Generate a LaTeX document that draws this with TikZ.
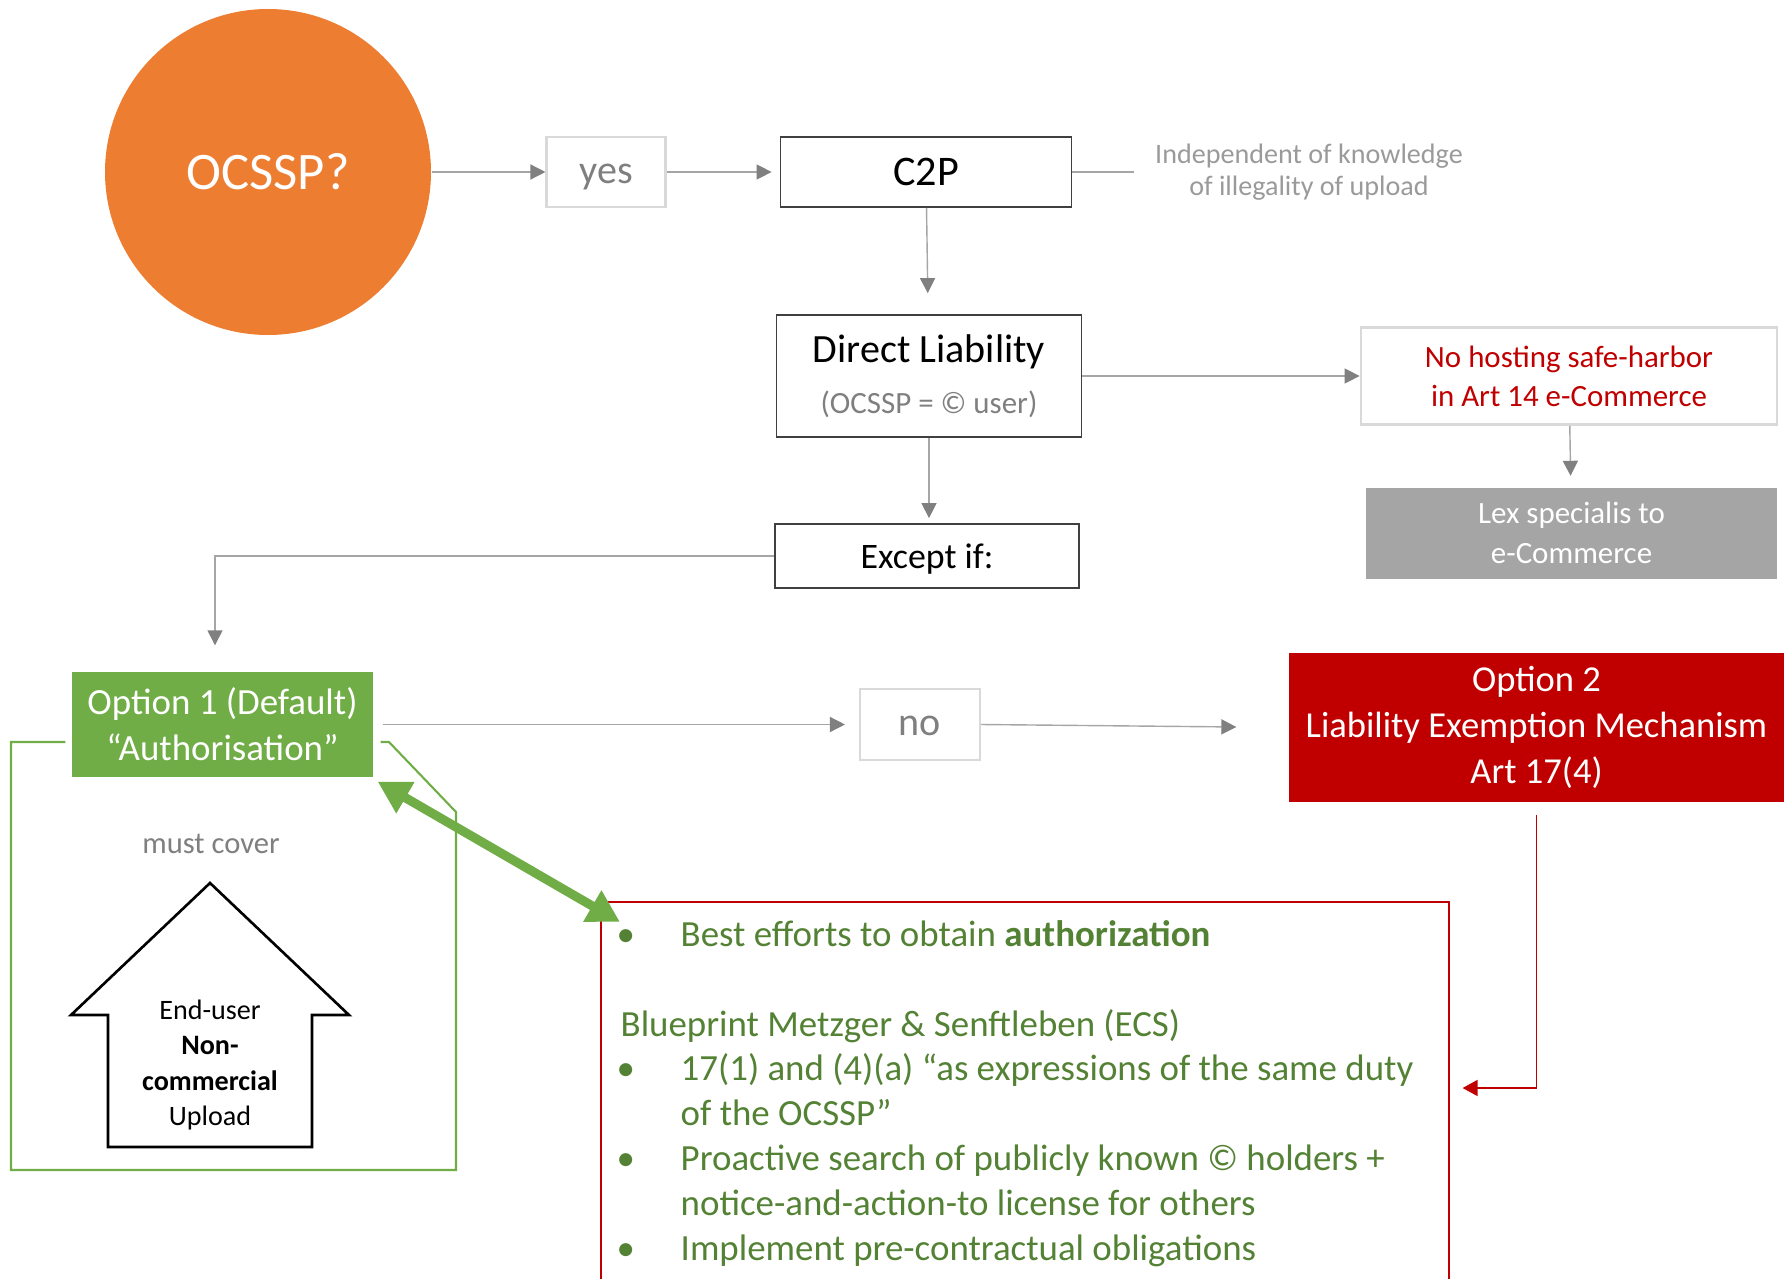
\documentclass[tikz,border=0pt]{standalone}
\usepackage{fontspec}
\setmainfont{Carlito}
\usepackage{tikz}
\usetikzlibrary{arrows.meta,positioning,calc}
\tikzstyle{bubble} = [circle, fill=orangeC, minimum size=3.26cm, inner sep=0pt, text=white, font=\fsize{15}{18}]
\tikzstyle{answer} = [rectangle, draw=boxline, line width=0.6pt, minimum width=1.19cm, minimum height=0.70cm, inner sep=0pt, text height=8.6pt, text depth=2.3pt, text=txtgray, font=\fsize{11.4}{14}]
\tikzstyle{stage} = [rectangle, draw=darkline, line width=0.5pt, minimum height=0.70cm, inner sep=0pt, font=\fsize{12}{14}]
\tikzstyle{note} = [rectangle, draw=boxline, line width=0.8pt, minimum width=4.16cm, minimum height=0.97cm, inner sep=0pt, text=redC, align=center, font=\fsize{8.8}{11.1}]
\tikzstyle{greybox} = [rectangle, fill=lexgray, minimum width=4.11cm, minimum height=0.91cm, inner sep=0pt, text=white, align=center, font=\fsize{8.8}{11.3}]
\tikzstyle{option1} = [rectangle, fill=greenC, minimum width=3.01cm, minimum height=1.05cm, inner sep=0pt, text=white, align=center, font=\fsize{10.5}{13.1}]
\tikzstyle{option2} = [rectangle, fill=redC, minimum width=4.95cm, minimum height=1.49cm, inner sep=0pt, text=white, align=center, font=\fsize{10.4}{13.1}]
\tikzstyle{arrow} = [line width=0.4pt, draw=linegray, -{Triangle[length=0.15cm,width=0.15cm,color=tipgray]}]
\tikzstyle{redarrow} = [line width=0.45pt, draw=redC, -{Triangle[length=0.15cm,width=0.16cm]}]
\tikzstyle{bigarrow} = [line width=2.6pt, draw=greenC, {Triangle[length=0.32cm,width=0.34cm]}-{Triangle[length=0.32cm,width=0.34cm]}]
\definecolor{orangeC}{RGB}{237,125,49}
\definecolor{greenC}{RGB}{112,173,71}
\definecolor{darkgreen}{RGB}{84,130,53}
\definecolor{redC}{RGB}{192,0,0}
\definecolor{lexgray}{RGB}{165,165,165}
\definecolor{linegray}{RGB}{166,166,166}
\definecolor{tipgray}{RGB}{128,128,128}
\definecolor{boxline}{RGB}{217,217,217}
\definecolor{txtgray}{RGB}{127,127,127}
\definecolor{notegray}{RGB}{154,154,154}
\definecolor{darkline}{RGB}{64,64,64}
\newcommand{\fsize}[2]{\fontsize{#1pt}{#2pt}\selectfont}
\newcommand{\itm}[1]{\par\hangindent=0.6cm\hangafter=1\noindent\makebox[0.6cm][l]{\hspace{-0.04cm}\textbullet}#1}

\begin{document}
\begin{tikzpicture}
\useasboundingbox (0,0) rectangle (17.87,-12.79);
\node (ocssp) [bubble] at (2.68,-1.72) {OCSSP?};
\node (yes) [answer, right of=ocssp, node distance=3.38cm] {yes};
\node (c2p) [stage, minimum width=2.91cm, right of=yes, node distance=3.2cm] {C2P};
\node (indep) [right of=c2p, node distance=3.83cm, text=notegray, align=center, font=\fsize{8}{9.1}] {Independent of knowledge\\of illegality of upload};
\node (direct) [stage, minimum width=3.05cm, minimum height=1.22cm, below of=c2p, node distance=2.04cm, xshift=0.03cm, align=center, font=\fsize{11.4}{14.6}] {Direct Liability\\{\fsize{8.8}{14.6}\color{txtgray}(OCSSP = © user)}};
\node (except) [stage, minimum width=3.04cm, minimum height=0.64cm, below of=direct, node distance=1.8cm, xshift=-0.02cm, text height=9.6pt, text depth=2.5pt, font=\fsize{10.2}{12}] {Except if:};
\node (nohost) [note, right of=direct, node distance=6.4cm] {No hosting safe-harbor\\in Art 14 e-Commerce};
\node (lex) [greybox, below of=nohost, node distance=1.57cm, xshift=0.025cm] {Lex specialis to\\e-Commerce};
\node (opt1) [option1] at (2.225,-7.245) {Option 1 (Default)\\“Authorisation”};
\node (no) [answer, minimum width=1.20cm, minimum height=0.71cm, right of=opt1, node distance=6.975cm] {no};
\node (opt2) [option2, right of=no, node distance=6.165cm, yshift=-0.03cm] {Option 2\\Liability Exemption Mechanism\\Art 17(4)};
\node (cover) [below of=opt1, node distance=1.195cm, xshift=-0.115cm, text=txtgray, font=\fsize{8.7}{10}] {must cover};
\node (frame) [anchor=north west, draw=redC, line width=0.45pt, minimum width=8.48cm, minimum height=4.4cm, inner sep=0pt] at (6.00,-9.01) {};
\node (bp) [anchor=north west, text width=8.1cm, inner sep=0pt, text=darkgreen, font=\fsize{10.5}{12.75}] at (6.20,-9.01) {%
\raggedright\spaceskip=0pt\xspaceskip=0pt
\itm{Best efforts to obtain \textbf{authorization}}\par
\mbox{}\par
\noindent Blueprint Metzger \& Senftleben (ECS)
\itm{17(1) and (4)(a) “as expressions of the same duty\newline of the OCSSP”}
\itm{Proactive search of publicly known © holders +\newline notice-and-action-to license for others}
\itm{Implement pre-contractual obligations}\par};
% upload arrow
\draw[line width=0.75pt] (2.10,-8.83) -- (3.49,-10.15) -- (3.12,-10.15) -- (3.12,-11.47) -- (1.08,-11.47) -- (1.08,-10.15) -- (0.71,-10.15) -- cycle;
\node (upload) at (2.10,-10.65) [align=center, font=\fsize{8}{10}] {End-user\\\textbf{Non-}\\\textbf{commercial}\\Upload};
% green frame
\draw[greenC, line width=0.6pt] ([shift={(-0.06,-0.175)}]opt1.west) -| (0.11,-11.70) -| (4.56,-8.12) -- (3.89,-7.42) -- ([shift={(0.07,-0.175)}]opt1.east);
% connectors
\draw[arrow] (ocssp) -- (yes);
\draw[arrow, shorten >=0.08cm] (yes) -- (c2p);
\draw[line width=0.4pt, linegray] (c2p.east) -- ([xshift=0.62cm]c2p.east);
\draw[arrow, shorten >=0.21cm] (c2p) -- (direct);
\draw[arrow] (direct) -- (nohost);
\draw[arrow, shorten >=0.11cm] (nohost) -- (lex);
\draw[arrow, shorten >=0.05cm] (direct.south) -- (except.north -| direct.south);
\coordinate (opt1in) at ([xshift=-0.075cm]opt1.north);
\draw[arrow, shorten >=0.26cm] (except.west) -| (opt1in);
\draw[arrow, shorten <=0.09cm, shorten >=0.14cm] (opt1.east) -- (no.west);
\draw[arrow, shorten >=0.52cm] (no.east) -- (opt2.west);
\draw[redarrow, shorten <=0.12cm, shorten >=0.13cm] (opt2.south) |- ([yshift=-1.87cm]frame.north east);
\draw[bigarrow] ([shift={(0.04,-0.04)}]opt1.south east) -- ([shift={(0.20,-0.21)}]frame.north west);
\end{tikzpicture}
\end{document}
